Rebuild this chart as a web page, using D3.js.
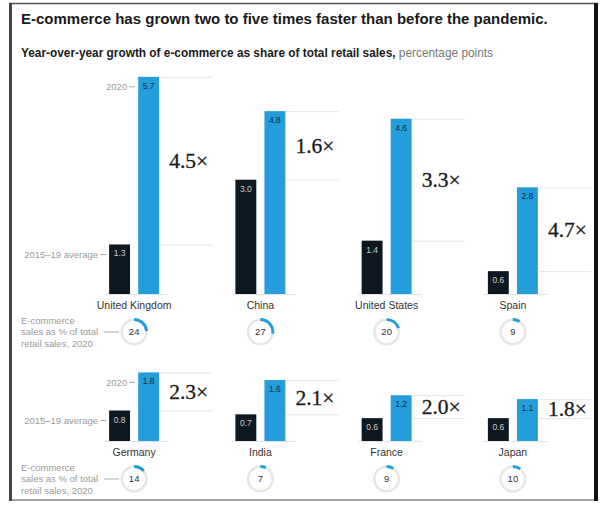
<!DOCTYPE html>
<html>
<head>
<meta charset="utf-8">
<script src="https://cdn.jsdelivr.net/npm/d3@7"></script>
<style>
  html, body { margin: 0; padding: 0; background: #fff; }
  svg { display: block; }
</style>
</head>
<body>
<svg id="chart" width="603" height="505"></svg>
<script>
// E-commerce growth: 2015–19 average vs 2020, by country
const countries = ["United Kingdom", "China", "United States", "Spain",
                   "Germany", "India", "France", "Japan"];
const avg2015_19 = [1.3, 3.0, 1.4, 0.6, 0.8, 0.7, 0.6, 0.6];
const growth2020 = [5.7, 4.8, 4.6, 2.8, 1.8, 1.6, 1.2, 1.1];
const multiples = ["4.5×", "1.6×", "3.3×", "4.7×", "2.3×", "2.1×", "2.0×", "1.8×"];
const shareOfRetail = [24, 27, 20, 9, 14, 7, 9, 10];
const seriesKeys = ["avg", "y2020"];
const seriesLabels = ["2015–19 average", "2020"];

const svg = d3.select("#chart");
const BLACK = "#0e1822", BLUE = "#249ddb", GREY = "#9a9a9a";
const SANS = "'Liberation Sans', Arial, sans-serif";
const SERIF = "'Liberation Serif', 'DejaVu Serif', serif";

// frame
svg.append("line").attr("x1", 9).attr("x2", 598).attr("y1", 3.5).attr("y2", 3.5)
  .attr("stroke", "#555").attr("stroke-width", 1.5);
svg.append("line").attr("x1", 9).attr("x2", 598).attr("y1", 500).attr("y2", 500)
  .attr("stroke", "#888").attr("stroke-width", 1.5);
svg.append("line").attr("x1", 10.5).attr("x2", 10.5).attr("y1", 3).attr("y2", 501)
  .attr("stroke", "#444").attr("stroke-width", 3);
svg.append("line").attr("x1", 596).attr("x2", 596).attr("y1", 3).attr("y2", 501)
  .attr("stroke", "#111").attr("stroke-width", 4);

// titles
svg.append("text").attr("x", 21).attr("y", 24)
  .attr("font-family", SANS).attr("font-weight", "bold").attr("font-size", 15)
  .attr("fill", "#1a1a1a")
  .text("E-commerce has grown two to five times faster than before the pandemic.");
const sub = svg.append("text").attr("x", 21).attr("y", 57)
  .attr("font-family", SANS).attr("font-size", 11.85).attr("fill", "#1a1a1a");
sub.append("tspan").attr("font-weight", "bold")
  .text("Year-over-year growth of e-commerce as share of total retail sales,");
sub.append("tspan").attr("fill", "#777").text(" percentage points");

// layout scales
const col = d3.scaleBand().domain([0, 1, 2, 3]).range([71, 576]);
const inner = d3.scaleBand().domain(seriesKeys).range([-25, 25]).paddingInner(0.28);
const rowBaselines = [294, 441];
const yScales = rowBaselines.map(b => d3.scaleLinear().domain([0, 6]).range([b, b - 6 * 38.1]));

const data = countries.map((c, i) => ({
  country: c, avg: avg2015_19[i], y2020: growth2020[i],
  multiple: multiples[i], share: shareOfRetail[i],
  row: Math.floor(i / 4), col: i % 4
}));

const arc = d3.arc();

data.forEach(d => {
  const y = yScales[d.row];
  const cx = col(d.col) + col.bandwidth() / 2;
  const g = svg.append("g").attr("transform", `translate(${cx},0)`);
  const base = y(0);
  const blueRight = inner("y2020") + inner.bandwidth();

  // baseline
  g.append("line").attr("x1", inner("avg") - 4).attr("x2", blueRight + 10)
    .attr("y1", base + 0.5).attr("y2", base + 0.5)
    .attr("stroke", "#e4e4e4").attr("stroke-width", 1);

  // reference lines at bar tops
  [d.y2020, d.avg].forEach(v => {
    g.append("line").attr("x1", blueRight + 1).attr("x2", blueRight + 53)
      .attr("y1", y(v) + 0.5).attr("y2", y(v) + 0.5)
      .attr("stroke", "#e6e6e6").attr("stroke-width", 1);
  });

  // bars
  seriesKeys.forEach(k => {
    const v = d[k];
    g.append("rect").attr("x", inner(k)).attr("width", inner.bandwidth())
      .attr("y", y(v)).attr("height", base - y(v))
      .attr("fill", k === "avg" ? BLACK : BLUE);
    g.append("text").attr("x", inner(k) + inner.bandwidth() / 2).attr("y", y(v) + 12)
      .attr("text-anchor", "middle").attr("font-family", SANS).attr("font-size", 8.5)
      .attr("fill", k === "avg" ? "#c9cdd1" : "#0d2b44")
      .text(v.toFixed(1));
  });

  // multiple label
  const midY = (y(d.y2020) + y(d.avg)) / 2;
  g.append("text").attr("x", blueRight + 10).attr("y", midY)
    .attr("dy", "0.35em").attr("font-family", SERIF)
    .attr("font-size", 21.5).attr("fill", "#1a1a1a")
    .attr("stroke", "#1a1a1a").attr("stroke-width", 0.3)
    .text(d.multiple);

  // country name
  g.append("text").attr("x", 0).attr("y", base + 15)
    .attr("text-anchor", "middle").attr("font-family", SANS).attr("font-size", 10.5)
    .attr("fill", "#333").text(d.country);

  // share-of-retail donut
  const cy = base + 38;
  const dg = g.append("g").attr("transform", `translate(0,${cy})`);
  dg.append("circle").attr("r", 12.3).attr("fill", "none")
    .attr("stroke", "#e6e6e6").attr("stroke-width", 2.5);
  dg.append("path").attr("fill", BLUE)
    .attr("d", arc({ innerRadius: 11, outerRadius: 14, startAngle: 0,
                     endAngle: 2 * Math.PI * d.share / 100 }));
  dg.append("text").attr("y", 0).attr("dy", "0.35em").attr("text-anchor", "middle")
    .attr("font-family", SANS).attr("font-size", 9.5).attr("fill", "#333").text(d.share);

  // series and donut keys, first column of each row
  if (d.col === 0) {
    const keyG = svg.append("g").attr("font-family", SANS).attr("font-size", 9.5).attr("fill", GREY);
    seriesKeys.forEach((k, j) => {
      const ty = y(d[k]) + 10;
      const xr = cx + inner(k) - 2;
      keyG.append("text").attr("x", xr - 9).attr("y", ty).attr("dy", "0.35em")
        .attr("text-anchor", "end").text(seriesLabels[j]);
      keyG.append("line").attr("x1", xr - 7).attr("x2", xr - 1).attr("y1", ty).attr("y2", ty)
        .attr("stroke", "#aaa").attr("stroke-width", 1);
    });
    const legLines = ["E-commerce", "sales as % of total", "retail sales, 2020"];
    legLines.forEach((t, j) => {
      keyG.append("text").attr("x", 21).attr("y", cy + (j - 1) * 11.5).attr("dy", "0.35em").text(t);
    });
    keyG.append("line").attr("x1", 104).attr("x2", cx - 15).attr("y1", cy).attr("y2", cy)
      .attr("stroke", "#aaa").attr("stroke-width", 1);
  }
});
</script>
</body>
</html>
